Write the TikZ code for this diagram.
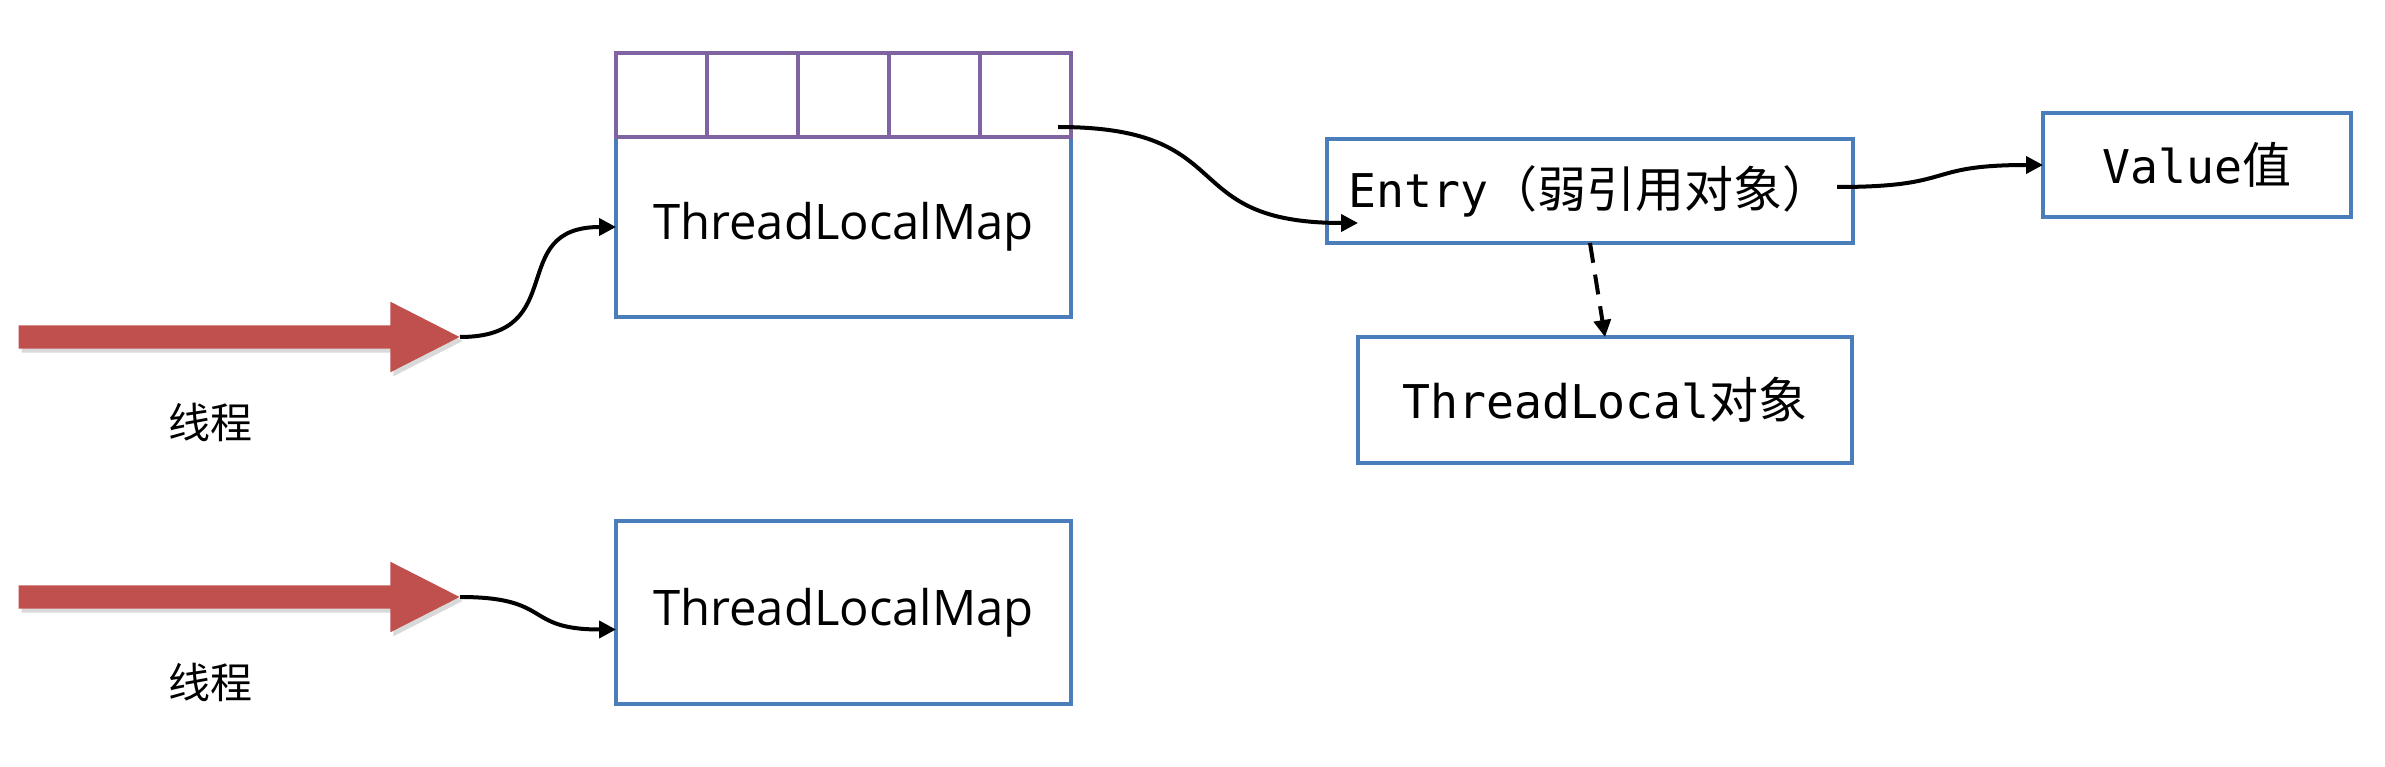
\documentclass[tikz,border=0pt]{standalone}
\usepackage{fontspec}
\setmainfont{Open Sans}
\setmonofont{DejaVu Sans Mono}
\newfontfamily\cjk{Noto Sans CJK SC}
\usetikzlibrary{arrows.meta,positioning,calc,shapes.arrows,shadows}
\definecolor{mapblue}{RGB}{74,126,187}
\definecolor{slotpurple}{RGB}{128,100,162}
\definecolor{threadred}{RGB}{192,80,77}
\newcommand{\zh}[1]{{\cjk\fontsize{49pt}{56pt}\selectfont #1}}

\begin{document}
\begin{tikzpicture}[x=1pt,y=-1pt,
  box/.style={draw=mapblue,line width=4pt,inner sep=0pt,outer sep=0pt},
  slot/.style={draw=slotpurple,line width=4pt,minimum width=91pt,minimum height=84pt,inner sep=0pt,outer sep=0pt},
  thread/.style={single arrow,fill=threadred,minimum height=441pt,inner xsep=0pt,inner ysep=11.5pt,single arrow head extend=23.5pt,single arrow tip angle=54,anchor=tip,drop shadow={shadow xshift=3pt,shadow yshift=-4pt,fill=black,opacity=0.15}},
  mapfont/.style={font=\fontsize{49pt}{58pt}\selectfont},
  objfont/.style={font=\fontsize{46.5pt}{56pt}\ttfamily},
  threadlabel/.style={font=\cjk\fontsize{42pt}{50pt}\selectfont},
  conn/.style={-{Triangle[length=17pt,width=17pt]},line width=4pt,black}]
\useasboundingbox (0,0) rectangle (2385,767);

% threads
\node[thread] (thread1) at (460,337) {};
\node[thread] (thread2) at (460,597) {};
\node[threadlabel] (name1) at (210,422) {线程};
\node[threadlabel] (name2) at (210,682) {线程};

% maps and entry table
\node[box,mapfont,minimum width=455pt,minimum height=180pt] (map1) at (843.5,227) {ThreadLocalMap};
\node[box,mapfont,minimum width=455pt,minimum height=183pt] (map2) at (843.5,612.5) {ThreadLocalMap};
\node[slot] (s1) at (661.5,95) {};
\foreach \i [count=\j from 2] in {1,...,4}
  \node[slot,right=0pt of s\i] (s\j) {};

% objects
\node[box,objfont,minimum width=526pt,minimum height=104pt] (entry) at (1590,191) {Entry\zh{（弱引用对象）}};
\node[box,objfont,minimum width=494pt,minimum height=126pt] (tlobj) at (1605,400) {ThreadLocal\zh{对象}};
\node[box,objfont,minimum width=308pt,minimum height=104pt] (value) at (2197,165) {Value\zh{值}};

\coordinate (slotout) at ($(s5.center)+(32.5,32)$);
\coordinate (entryin) at ($(entry.west)+(31,32)$);
\coordinate (entryout) at ($(entry.east)+(-16,-4)$);
\coordinate (map2in) at ($(map2.west)+(0,17)$);

\path[conn]
(thread1.tip) edge[out=0,in=180,looseness=1.5] (map1.west)
(thread2.tip) edge[out=0,in=180,looseness=1.5] (map2in)
(slotout) edge[out=0,in=180,looseness=1.5] (entryin)
(entryout) edge[out=0,in=180,looseness=1.5] (value.west)
;
\path[conn,dash pattern=on 20pt off 12pt]
(entry.south) edge (tlobj.north)
;
\end{tikzpicture}
\end{document}
